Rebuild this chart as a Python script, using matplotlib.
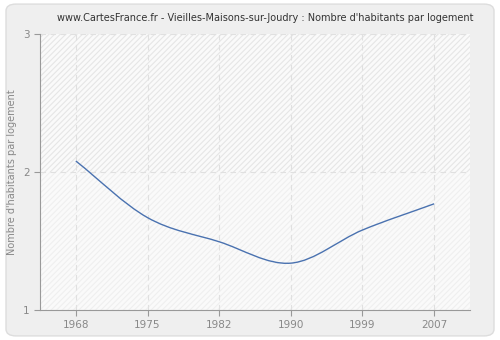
import numpy as np
import matplotlib.pyplot as plt
from matplotlib.path import Path
from matplotlib.patches import PathPatch, FancyBboxPatch

# Données
annees = ["1968", "1975", "1982", "1990", "1999", "2007"]
habitants_par_logement = [2.08, 1.67, 1.495, 1.34, 1.58, 1.77]

titre = "www.CartesFrance.fr - Vieilles-Maisons-sur-Joudry : Nombre d'habitants par logement"
label_y = "Nombre d'habitants par logement"

gris_texte = "#888888"
bleu = "#4a72b0"

plt.rcParams["hatch.linewidth"] = 0.8

fig = plt.figure(figsize=(5, 3.4), dpi=100)
fig.patch.set_facecolor("white")

# Cadre arrondi du fond
cadre = FancyBboxPatch((0.012, 0.012), 0.976, 0.976,
                       boxstyle="round,pad=0,rounding_size=0.02",
                       transform=fig.transFigure, facecolor="#efefef",
                       edgecolor="#dddddd", linewidth=1, zorder=-10)
fig.patches.append(cadre)

ax = fig.add_axes([0.08, 0.088, 0.86, 0.812])
ax.set_facecolor("#fafafa")
ax.set_xlim(-0.5, 5.5)
ax.set_ylim(1, 3)

# Hachures légères : plus marquées au-dessus de 2
haut = plt.Rectangle((-0.5, 2), 6, 1, facecolor="none", edgecolor="#e6e6e6",
                     hatch="//////", linewidth=0, zorder=0)
bas = plt.Rectangle((-0.5, 1), 6, 1, facecolor="none", edgecolor="#efefef",
                    hatch="//////", linewidth=0, zorder=0)
ax.add_patch(haut)
ax.add_patch(bas)

x = np.arange(len(annees))
y = np.array(habitants_par_logement)

# Courbe lissée (Bézier cubique, tangentes type Catmull-Rom)
tang = np.gradient(y, x)
sommets = [(x[0], y[0])]
codes = [Path.MOVETO]
for i in range(len(x) - 1):
    h = (x[i + 1] - x[i]) / 3
    sommets += [(x[i] + h, y[i] + tang[i] * h),
                (x[i + 1] - h, y[i + 1] - tang[i + 1] * h),
                (x[i + 1], y[i + 1])]
    codes += [Path.CURVE4] * 3
courbe = PathPatch(Path(sommets, codes), facecolor="none", edgecolor=bleu,
                   linewidth=1, zorder=3)
ax.add_patch(courbe)

ax.set_xticks(x)
ax.set_xticklabels(annees)
ax.set_yticks([1, 2, 3])
ax.grid(True, color="#e0e0e0", linestyle=(0, (5, 4)), linewidth=0.8)
ax.set_axisbelow(True)

for cote in ["top", "right"]:
    ax.spines[cote].set_visible(False)
for cote in ["left", "bottom"]:
    ax.spines[cote].set_color("#999999")

ax.tick_params(colors="#999999", labelcolor=gris_texte, labelsize=7.5, length=4)
ax.set_ylabel(label_y, color=gris_texte, fontsize=7)
fig.text(0.53, 0.948, titre, ha="center", va="center", fontsize=7, color="#333333")

plt.savefig("out.png", dpi=100)
